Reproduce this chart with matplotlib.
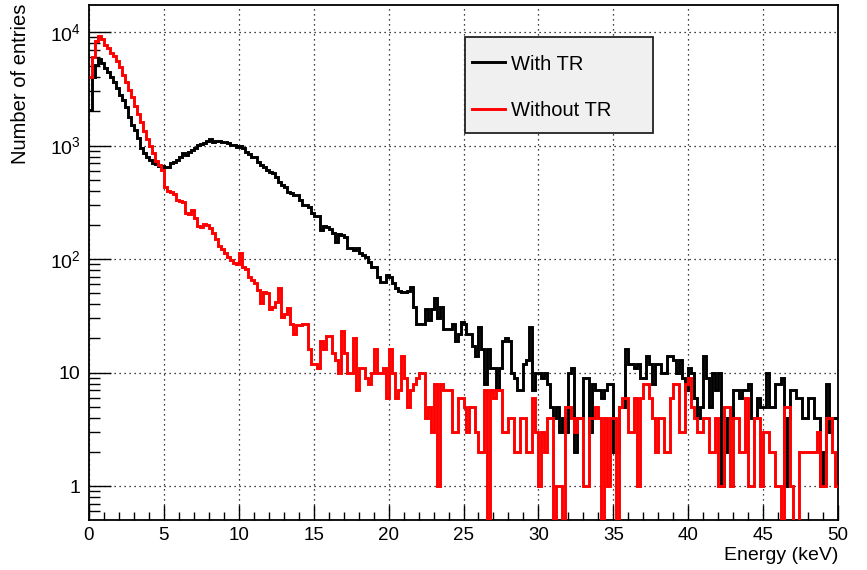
import matplotlib
matplotlib.use("Agg")
import matplotlib.pyplot as plt
import matplotlib.ticker as mticker
import numpy as np
from matplotlib.lines import Line2D
from matplotlib.patches import Rectangle

# histogram binning (keV)
e_min = 0.0
e_max = 50.0
n_bins = 250

# counts per 0.2 keV bin
with_tr = [
    2050, 4040, 5100, 5730, 5300, 4790, 4450, 4040, 3650, 3190,
    2790, 2510, 2200, 1800, 1510, 1370, 1160, 945, 853, 797,
    745, 705, 687, 660, 660, 642, 651, 696, 720, 745,
    797, 853, 825, 880, 910, 957, 1010, 1040, 1050, 1100,
    1130, 1070, 1100, 1100, 1070, 1070, 1060, 1010, 1020, 975,
    1000, 950, 870, 850, 800, 790, 715, 680, 645, 610,
    590, 570, 530, 475, 450, 430, 390, 380, 370, 365,
    330, 300, 300, 290, 255, 240, 240, 180, 195, 190,
    185, 170, 140, 165, 162, 155, 125, 125, 120, 125,
    113, 108, 105, 94, 85, 85, 70, 63, 63, 72,
    70, 62, 56, 52, 51, 51, 52, 57, 38, 27,
    27, 27, 36, 29, 36, 45, 30, 38, 24, 24,
    24, 27, 19, 22, 28, 27, 22, 22, 17, 14,
    25, 16, 8, 16, 11, 11, 7, 11, 19, 20,
    19, 10, 9, 7, 7, 12, 13, 25, 7, 10,
    10, 9, 10, 8, 5, 4, 5, 3, 4, 3,
    10, 11, 2, 4, 4, 9, 9, 3, 8, 7,
    7, 6, 7, 8, 8, 2, 2, 5, 5, 16,
    12, 12, 11, 12, 9, 9, 14, 12, 8, 12,
    12, 10, 10, 14, 14, 13, 10, 13, 9, 7,
    11, 10, 6, 4, 5, 14, 9, 5, 10, 7,
    10, 1, 2, 4, 4, 7, 7, 6, 7, 7,
    8, 4, 4, 6, 5, 5, 10, 5, 5, 8,
    8, 9, 1, 4, 7, 7, 6, 6, 4, 4,
    6, 6, 4, 4, 1, 2, 8, 3, 4, 4,
]
without_tr = [
    4000, 6000, 8300, 9200, 8600, 7700, 7200, 6600, 6100, 5500,
    4900, 4200, 3600, 3100, 2650, 2250, 1900, 1600, 1350, 1150,
    1000, 860, 730, 680, 610, 430, 400, 390, 375, 330,
    325, 320, 255, 250, 270, 228, 195, 190, 205, 200,
    186, 168, 150, 130, 122, 113, 105, 98, 92, 90,
    113, 85, 82, 70, 66, 62, 53, 41, 51, 50,
    36, 38, 42, 55, 31, 33, 37, 27, 22, 26,
    26, 27, 27, 16, 12, 12, 11, 19, 16, 21,
    21, 15, 13, 10, 23, 15, 10, 10, 20, 7,
    11, 11, 9, 8, 10, 16, 10, 10, 11, 6,
    16, 10, 6, 7, 14, 9, 5, 7, 8, 9,
    10, 10, 4, 5, 3, 8, 1, 8, 7, 7,
    7, 3, 3, 6, 6, 5, 3, 5, 5, 3,
    2, 2, 7, 0, 7, 6, 7, 7, 3, 3,
    4, 4, 2, 2, 4, 4, 2, 2, 6, 3,
    1, 3, 2, 4, 4, 0, 1, 1, 0, 5,
    5, 4, 3, 4, 4, 1, 1, 4, 4, 5,
    4, 0, 4, 1, 4, 4, 0, 5, 6, 6,
    3, 3, 6, 1, 6, 8, 8, 6, 4, 2,
    4, 4, 2, 2, 6, 8, 8, 3, 3, 8,
    9, 5, 4, 3, 3, 4, 4, 2, 2, 4,
    1, 1, 5, 5, 1, 4, 4, 2, 2, 6,
    1, 1, 4, 4, 1, 3, 3, 2, 2, 1,
    1, 0, 5, 5, 1, 0, 0, 2, 2, 2,
    2, 2, 2, 3, 1, 1, 4, 4, 2, 1,
]
series_labels = ["With TR", "Without TR"]
series_colors = ["black", "#ff0000"]
y_ticks = [1, 10, 100, 1000, 10000]
y_tick_labels = ["1", "10", "$10^{2}$", "$10^{3}$", "$10^{4}$"]
x_ticks = [0, 5, 10, 15, 20, 25, 30, 35, 40, 45, 50]


def main() -> None:
    plt.rcParams["font.family"] = ["Liberation Sans", "DejaVu Sans"]
    plt.rcParams["mathtext.fontset"] = "custom"
    plt.rcParams["mathtext.rm"] = "Liberation Sans"
    plt.rcParams["mathtext.it"] = "Liberation Sans:italic"
    plt.rcParams["mathtext.bf"] = "Liberation Sans:bold"

    W, H = 867, 570
    fig = plt.figure(figsize=(W / 100, H / 100), dpi=100)
    ax = fig.add_axes([89 / W, 50 / H, 749 / W, 515 / H])

    edges = np.linspace(e_min, e_max, n_bins + 1)
    for vals, col in zip([with_tr, without_tr], series_colors):
        v = np.asarray(vals, dtype=float)
        v = np.where(v > 0, v, 1e-3)  # empty bins drop below the frame
        ax.stairs(v, edges, baseline=None, color=col, linewidth=2.1, zorder=3)

    ax.set_yscale("log")
    ax.set_xlim(e_min, e_max)
    ax.set_ylim(0.502, 17300)

    ax.xaxis.set_major_locator(mticker.FixedLocator(x_ticks))
    ax.xaxis.set_minor_locator(mticker.MultipleLocator(1))
    ax.yaxis.set_major_locator(mticker.FixedLocator(y_ticks))
    ax.yaxis.set_major_formatter(mticker.FixedFormatter(y_tick_labels))
    ax.yaxis.set_minor_locator(mticker.LogLocator(base=10, subs=np.arange(2, 10)))
    ax.yaxis.set_minor_formatter(mticker.NullFormatter())

    ax.tick_params(axis="x", which="major", direction="in", length=11, width=1, labelsize=13.5, pad=5)
    ax.tick_params(axis="x", which="minor", direction="in", length=5.5, width=1)
    ax.tick_params(axis="y", which="major", direction="in", length=16, width=1, labelsize=14, pad=6)
    ax.tick_params(axis="y", which="minor", direction="in", length=8, width=1)

    ax.set_axisbelow(True)
    ax.grid(True, which="major", color="black", linestyle=(0, (1, 3)), linewidth=0.9)
    for s in ax.spines.values():
        s.set_linewidth(1.3)

    fig.text(838 / W, 1 - 556 / H, "Energy (keV)", ha="right", va="center", fontsize=14)
    fig.text(21 / W, 1 - 4 / H, "Number of entries", ha="center", va="top", rotation=90, fontsize=14.5)

    # legend box
    box = Rectangle((465 / W, 1 - 133 / H), 188 / W, 96 / H, transform=fig.transFigure,
                    facecolor="#f0f0f0", edgecolor="#222222", linewidth=1.3, zorder=5)
    fig.add_artist(box)
    for lab, col, yp in zip(series_labels, series_colors, [62, 109]):
        fig.add_artist(Line2D([472 / W, 505 / W], [1 - yp / H, 1 - yp / H], transform=fig.transFigure,
                              color=col, linewidth=2.1, zorder=6))
        fig.text(511 / W, 1 - (yp + 2) / H, lab, ha="left", va="center", fontsize=14.5, zorder=6)

    fig.savefig("out.png", dpi=100, facecolor="white")
    plt.close(fig)


if __name__ == "__main__":
    main()
